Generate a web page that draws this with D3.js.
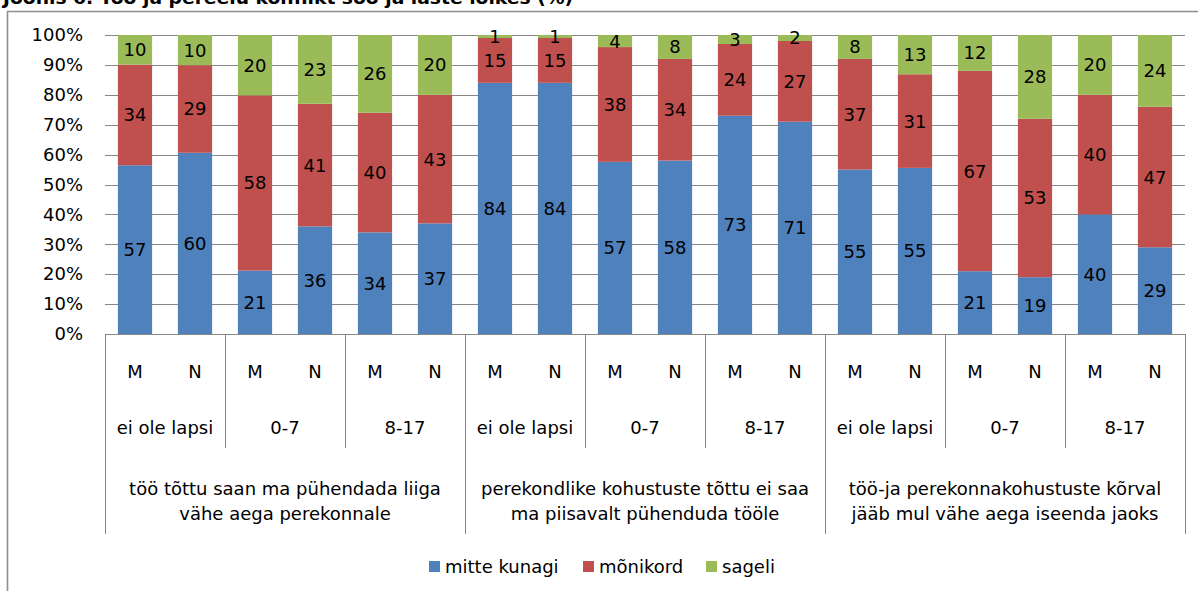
<!DOCTYPE html>
<html><head><meta charset="utf-8">
<script src="https://cdn.jsdelivr.net/npm/d3@7"></script>
<style>body{margin:0;background:#fff}svg{display:block}text{font-family:"DejaVu Sans",sans-serif;fill:#000}</style>
</head><body><svg id="c" width="1198" height="591"></svg>
<script>
const title = "Joonis 6. Töö ja pereelu konflikt soo ja laste lõikes (%)";
const sexes = ["M","N","M","N","M","N","M","N","M","N","M","N","M","N","M","N","M","N"];
const childGroups = ["ei ole lapsi","0-7","8-17","ei ole lapsi","0-7","8-17","ei ole lapsi","0-7","8-17"];
const topGroups = [
  ["töö tõttu saan ma pühendada liiga","vähe aega perekonnale"],
  ["perekondlike kohustuste tõttu ei saa","ma piisavalt  pühenduda tööle"],
  ["töö-ja perekonnakohustuste kõrval","jääb mul vähe aega iseenda jaoks"]
];
const seriesNames = ["mitte kunagi","mõnikord","sageli"];
const mitteKunagi = [57,60,21,36,34,37,84,84,57,58,73,71,55,55,21,19,40,29];
const monikord   = [34,29,58,41,40,43,15,15,38,34,24,27,37,31,67,53,40,47];
const sageli     = [10,10,20,23,26,20,1,1,4,8,3,2,8,13,12,28,20,24];
const yTicks = [0,10,20,30,40,50,60,70,80,90,100];
const colors = ["#4F81BD","#C0504D","#9BBB59"];

const svg = d3.select("#c");
const L=105, R=1185, T=35, B=334;
const FS = 18;
const idx = d3.range(sexes.length);
const x = d3.scaleBand().domain(idx).range([L,R]).paddingInner(0.43).paddingOuter(0.215);
const y = d3.scaleLinear().domain([0,100]).range([B,T]);
const step = x.step();

// title (clipped at top, as in the reference)
svg.append("text").attr("x",3).attr("y",4).attr("font-size",18).attr("font-weight","bold")
  .attr("textLength",570).attr("lengthAdjust","spacingAndGlyphs").text(title);
// frame
svg.append("path").attr("d","M7.5,600V11.5H1210").attr("fill","none").attr("stroke","#8e8e8e").attr("stroke-width",1.6);

// grid
svg.append("g").selectAll("line").data(yTicks).join("line")
  .attr("x1",L).attr("x2",R).attr("y1",d=>Math.round(y(d))+0.5).attr("y2",d=>Math.round(y(d))+0.5)
  .attr("stroke","#868686").attr("stroke-width",1);
// y labels
const yAxis = d3.axisLeft(y).tickValues(yTicks).tickFormat(d=>d+"%").tickSize(0).tickPadding(22);
const ga = svg.append("g").attr("transform",`translate(${L},0)`).call(yAxis);
ga.select(".domain").remove();
ga.selectAll("text").attr("font-size",FS).attr("font-family","DejaVu Sans").attr("fill","#000");

// stacked normalized
const rows = idx.map(i=>({i, v:[mitteKunagi[i],monikord[i],sageli[i]]}));
const g = svg.append("g");
rows.forEach(r=>{
  const tot = d3.sum(r.v); let acc=0;
  r.v.forEach((v,k)=>{
    const y0 = acc/tot*100, y1=(acc+v)/tot*100; acc+=v;
    g.append("rect").attr("x",x(r.i)).attr("width",x.bandwidth())
      .attr("y",y(y1)).attr("height",y(y0)-y(y1)).attr("fill",colors[k]);
    g.append("text").attr("x",x(r.i)+x.bandwidth()/2).attr("y",(y(y0)+y(y1))/2)
      .attr("dy","0.36em").attr("text-anchor","middle").attr("font-size",FS).text(v);
  });
});

// category axis
const cg = svg.append("g").attr("stroke","#868686").attr("stroke-width",1);
cg.append("line").attr("x1",L).attr("x2",R).attr("y1",B+0.5).attr("y2",B+0.5);
for(let k=0;k<=9;k++){
  const xx = Math.round(L+k*2*step)+0.5;
  const bottom = (k%3===0)?534:448;
  cg.append("line").attr("x1",xx).attr("x2",xx).attr("y1",B).attr("y2",bottom);
}
svg.append("g").selectAll("text").data(idx).join("text")
  .attr("x",d=>x(d)+x.bandwidth()/2).attr("y",372).attr("dy","0.36em")
  .attr("text-anchor","middle").attr("font-size",FS).text(d=>sexes[d]);
svg.append("g").selectAll("text").data(childGroups).join("text")
  .attr("x",(d,i)=>L+(i*2+1)*step).attr("y",428).attr("dy","0.36em")
  .attr("text-anchor","middle").attr("font-size",FS).text(d=>d);
topGroups.forEach((lines,i)=>{
  lines.forEach((t,j)=>{
    svg.append("text").attr("x",L+(i*6+3)*step).attr("y",489+j*25).attr("dy","0.36em")
      .attr("text-anchor","middle").attr("font-size",FS).text(t);
  });
});

// legend
const legX=[429,583,706];
seriesNames.forEach((n,k)=>{
  svg.append("rect").attr("x",legX[k]).attr("y",561).attr("width",11).attr("height",11).attr("fill",colors[k]);
  svg.append("text").attr("x",legX[k]+16).attr("y",567).attr("dy","0.36em").attr("font-size",FS).text(n);
});
</script></body></html>
